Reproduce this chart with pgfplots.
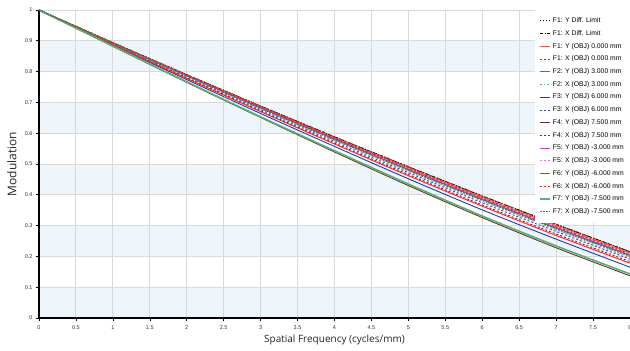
\documentclass[border=0pt]{standalone}
\usepackage{pgfplots}
\usepackage{pgfplotstable}
\pgfplotsset{compat=1.18}
\usepackage{fontspec}
\setmainfont{Liberation Sans}
\newfontfamily\labfont{Open Sans}
\definecolor{band}{HTML}{EEF6FB}
\definecolor{gridc}{HTML}{D9D9D9}
\definecolor{salmon}{HTML}{F05A5A}
\definecolor{redd}{HTML}{E01010}
\definecolor{greenA}{HTML}{2E8B4E}
\definecolor{greenB}{HTML}{5FBF7A}
\definecolor{blueA}{HTML}{2038B8}
\definecolor{blueB}{HTML}{3050B0}
\definecolor{brownA}{HTML}{6A2E22}
\definecolor{brownB}{HTML}{8B1A1A}
\definecolor{magA}{HTML}{C040C0}
\definecolor{pinkB}{HTML}{E07CD0}
\definecolor{redA}{HTML}{FF2020}
\definecolor{redB}{HTML}{D82828}
\definecolor{greenC}{HTML}{5AAE78}
\definecolor{greenD}{HTML}{2F7F4A}

\pgfplotstableread{
x  dly  dlx  f1y   f1x  f2y   f2x   f3y   f3x   f4y   f4x   f5y   f5x   f6y   f6x   f7y   f7x
0  1     1     1     1     1     1     1     1     1     1     1     1     1     1     1     1
1  0.894 0.894 0.893 0.894 0.892 0.891 0.886 0.890 0.882 0.889 0.892 0.891 0.888 0.893 0.883 0.892
2  0.790 0.790 0.789 0.790 0.786 0.785 0.774 0.782 0.765 0.780 0.787 0.784 0.778 0.788 0.767 0.786
3  0.688 0.688 0.686 0.688 0.682 0.680 0.664 0.677 0.651 0.673 0.683 0.679 0.670 0.685 0.653 0.681
4  0.588 0.588 0.585 0.588 0.580 0.578 0.557 0.573 0.539 0.568 0.582 0.576 0.565 0.584 0.543 0.579
5  0.491 0.491 0.488 0.491 0.482 0.479 0.452 0.472 0.430 0.466 0.483 0.476 0.462 0.486 0.435 0.480
6  0.396 0.396 0.392 0.396 0.385 0.382 0.351 0.374 0.326 0.367 0.387 0.379 0.363 0.390 0.331 0.383
7  0.304 0.304 0.300 0.304 0.292 0.289 0.256 0.281 0.228 0.273 0.294 0.286 0.268 0.297 0.234 0.290
8  0.215 0.215 0.211 0.215 0.203 0.199 0.165 0.191 0.137 0.183 0.205 0.196 0.178 0.208 0.143 0.201
}\mtf

\begin{document}
\begin{tikzpicture}
\begin{axis}[
  set layers,
  scale only axis, width=591pt, height=308pt,
  xmin=0, xmax=8, ymin=0, ymax=1,
  axis x line*=bottom, axis y line*=left,
  axis line style={black, line width=1.1pt, -},
  xtick={0,0.5,1,1.5,2,2.5,3,3.5,4,4.5,5,5.5,6,6.5,7,7.5,8},
  ytick={0,0.1,0.2,0.3,0.4,0.5,0.6,0.7,0.8,0.9,1},
  tick align=outside, major tick length=3pt,
  tick style={black, line width=0.6pt},
  grid=major, grid style={gridc, line width=0.9pt},
  ticklabel style={font=\fontsize{5.5}{6}\selectfont, text=black!80},
  xticklabel style={/pgf/number format/fixed, /pgf/number format/assume math mode=true, yshift=-1pt},
  yticklabel style={/pgf/number format/fixed, /pgf/number format/precision=1, /pgf/number format/assume math mode=true},
  xlabel={Spatial Frequency (cycles/mm)},
  ylabel={Modulation},
  label style={font=\labfont\fontsize{10}{12}\selectfont, text=black!85},
  xlabel style={at={(axis description cs:0.5,0)}, anchor=base, yshift=-25pt},
  ylabel style={at={(axis description cs:-0.046,0.5)}, anchor=center, rotate=0, font=\labfont\fontsize{12}{14}\selectfont},
  legend style={at={(1,1)}, anchor=north east, draw=none, fill=white,
    font=\fontsize{6.8}{8}\selectfont, row sep=2.3pt, inner xsep=4pt, inner ysep=5.5pt,
    cells={anchor=west}},
  legend image code/.code={\draw[#1] (0pt,0pt) -- (10pt,0pt);},
  every axis plot/.append style={line width=0.9pt},
]
\pgfplotsinvokeforeach{0,0.2,0.4,0.6,0.8}{
  \addplot[draw=none, fill=band, forget plot, on layer=axis background] coordinates {(0,#1) (8,#1) (8,#1+0.1) (0,#1+0.1)} --cycle;
}
\addplot[black, dash pattern=on 1pt off 2pt] table[x=x,y=dly]{\mtf};
\addlegendentry{F1: Y Diff. Limit}
\addplot[black, dash pattern=on 3pt off 1.5pt on 1pt off 1.5pt] table[x=x,y=dlx]{\mtf};
\addlegendentry{F1: X Diff. Limit}
\addplot[salmon, smooth] table[x=x,y=f1y]{\mtf};
\addlegendentry{F1: Y (OBJ) 0.000 mm}
\addplot[redd, dash pattern=on 2pt off 2pt, smooth] table[x=x,y=f1x]{\mtf};
\addlegendentry{F1: X (OBJ) 0.000 mm}
\addplot[greenA, smooth] table[x=x,y=f2y]{\mtf};
\addlegendentry{F2: Y (OBJ) 3.000 mm}
\addplot[greenB, dash pattern=on 1.5pt off 2pt, smooth] table[x=x,y=f2x]{\mtf};
\addlegendentry{F2: X (OBJ) 3.000 mm}
\addplot[blueA, smooth] table[x=x,y=f3y]{\mtf};
\addlegendentry{F3: Y (OBJ) 6.000 mm}
\addplot[blueB, dash pattern=on 2pt off 2pt, smooth] table[x=x,y=f3x]{\mtf};
\addlegendentry{F3: X (OBJ) 6.000 mm}
\addplot[brownA, smooth] table[x=x,y=f4y]{\mtf};
\addlegendentry{F4: Y (OBJ) 7.500 mm}
\addplot[brownB, dash pattern=on 2pt off 2pt, smooth] table[x=x,y=f4x]{\mtf};
\addlegendentry{F4: X (OBJ) 7.500 mm}
\addplot[magA, smooth] table[x=x,y=f5y]{\mtf};
\addlegendentry{F5: Y (OBJ) -3.000 mm}
\addplot[pinkB, dash pattern=on 2pt off 2pt, smooth] table[x=x,y=f5x]{\mtf};
\addlegendentry{F5: X (OBJ) -3.000 mm}
\addplot[redA, smooth] table[x=x,y=f6y]{\mtf};
\addlegendentry{F6: Y (OBJ) -6.000 mm}
\addplot[redB, dash pattern=on 2pt off 2pt, smooth] table[x=x,y=f6x]{\mtf};
\addlegendentry{F6: X (OBJ) -6.000 mm}
\addplot[greenC, line width=1.6pt, smooth] table[x=x,y=f7y]{\mtf};
\addlegendentry{F7: Y (OBJ) -7.500 mm}
\addplot[greenD, line width=1.3pt, dash pattern=on 1.5pt off 1.5pt, smooth] table[x=x,y=f7x]{\mtf};
\addlegendentry{F7: X (OBJ) -7.500 mm}
\end{axis}
\pgfresetboundingbox
\useasboundingbox (-39pt,-33pt) rectangle (591pt,318pt);
\end{tikzpicture}
\end{document}
